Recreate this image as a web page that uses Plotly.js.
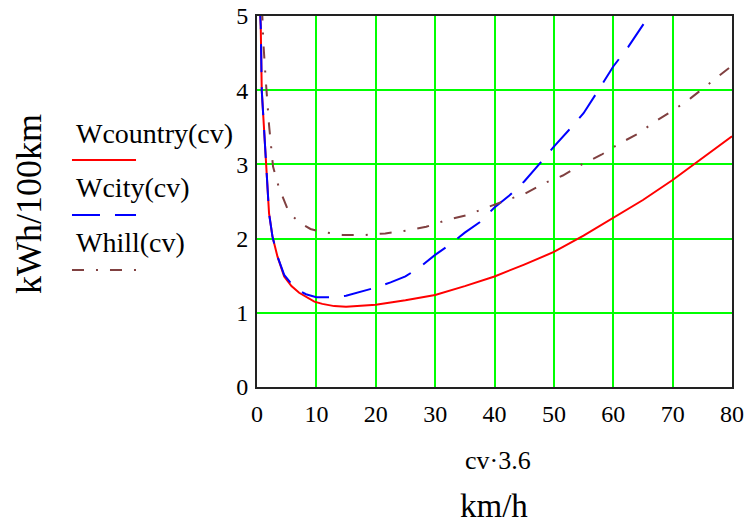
<!DOCTYPE html>
<html>
<head>
<meta charset="utf-8">
<script src="https://cdn.plot.ly/plotly-3.0.1.min.js"></script>
<style>html,body{margin:0;padding:0;background:#fff;}#chart{width:755px;height:526px;}</style>
</head>
<body>
<div id="chart"></div>
<script>
// Speed axis (cv·3.6, km/h) and consumption (kWh/100km)
const countryX = [0.45, 0.63, 0.8, 1.0, 1.19, 1.47, 1.75, 2.03, 2.6, 3.44, 4.58, 5.8, 7.1, 8.5, 9.66, 11, 13, 15, 17, 20, 25, 30, 35, 40, 45, 50, 55, 60, 65, 70, 75, 80];
const countryY = [5.2, 4.86, 4.0, 3.7, 3.42, 3.02, 2.65, 2.34, 2.03, 1.76, 1.49, 1.36, 1.27, 1.2, 1.15, 1.12, 1.09, 1.08, 1.09, 1.11, 1.17, 1.24, 1.36, 1.49, 1.65, 1.82, 2.04, 2.28, 2.52, 2.79, 3.08, 3.38];

const cityX = [0.45, 0.63, 0.8, 1.0, 1.19, 1.47, 1.75, 2.03, 2.6, 3.44, 4.58, 5.8, 7.1, 8.25, 10, 12.5, 15, 17.5, 20, 22.5, 25, 27.5, 30, 32.5, 35, 37.5, 40, 42.5, 45, 47.5, 50, 52.5, 55, 57.5, 60, 62.5, 65, 66.5];
const cityY = [5.2, 4.86, 4.0, 3.7, 3.42, 3.02, 2.65, 2.34, 2.03, 1.76, 1.51, 1.39, 1.3, 1.25, 1.21, 1.21, 1.23, 1.28, 1.34, 1.41, 1.49, 1.62, 1.78, 1.92, 2.08, 2.22, 2.42, 2.58, 2.77, 3.0, 3.24, 3.46, 3.69, 4.0, 4.32, 4.58, 4.88, 5.06];

const hillX = [0.85, 1.07, 1.47, 2.03, 2.7, 3.72, 5.1, 6.0, 7.5, 9.0, 10.9, 14.4, 18.3, 21.6, 25.3, 28.5, 32.0, 35.5, 38.7, 45.2, 48.5, 51.5, 54.7, 58.0, 61.0, 64.1, 66.9, 70.3, 73.0, 75.9, 78.7, 79.5];
const hillY = [5.1, 4.64, 4.14, 3.53, 2.97, 2.68, 2.41, 2.3, 2.2, 2.13, 2.09, 2.05, 2.05, 2.07, 2.11, 2.16, 2.25, 2.32, 2.42, 2.61, 2.75, 2.85, 3.0, 3.13, 3.28, 3.41, 3.57, 3.74, 3.89, 4.07, 4.25, 4.3];

const seriesNames = ["Wcountry(cv)", "Wcity(cv)", "Whill(cv)"];
const xTicks = [0, 10, 20, 30, 40, 50, 60, 70, 80];
const yTicks = [0, 1, 2, 3, 4, 5];

const RED = "#ff0000", BLUE = "#0000ff", BROWN = "#804040";
const DASH_CITY = "28px,15px";
const DASH_HILL = "12px,12px,2px,12px";
const SERIF = "Liberation Serif, Times New Roman, serif";

const traces = [
  {x: countryX, y: countryY, mode: "lines", name: seriesNames[0], line: {color: RED, width: 2}},
  {x: cityX, y: cityY, mode: "lines", name: seriesNames[1], line: {color: BLUE, width: 2, dash: DASH_CITY}},
  {x: hillX, y: hillY, mode: "lines", name: seriesNames[2], line: {color: BROWN, width: 2, dash: DASH_HILL}}
];

// legend geometry (paper coords)
const lx0 = -0.3895, lx1 = -0.2547, tx = -0.3853;
const legendY = [0.6119, 0.4636, 0.3154];
const textY = [0.6846, 0.5364, 0.3908];
const colors = [RED, BLUE, BROWN];
const dashes = ["solid", DASH_CITY, DASH_HILL];

const shapes = legendY.map((yy, i) => ({
  type: "line", xref: "paper", yref: "paper", x0: lx0, x1: lx1, y0: yy, y1: yy,
  line: {color: colors[i], width: 2, dash: dashes[i]}
}));

const annotations = seriesNames.map((n, i) => ({
  text: n, xref: "paper", yref: "paper", x: tx, y: textY[i], xanchor: "left", yanchor: "middle",
  showarrow: false, font: {family: SERIF, size: 28, color: "#000"}
}));
annotations.push(
  {text: "cv·3.6", xref: "paper", yref: "paper", x: 0.507, y: -0.197, xanchor: "center", yanchor: "middle",
   showarrow: false, font: {family: SERIF, size: 26, color: "#000"}},
  {text: "km/h", xref: "paper", yref: "paper", x: 0.498, y: -0.322, xanchor: "center", yanchor: "middle",
   showarrow: false, font: {family: SERIF, size: 33, color: "#000"}},
  {text: "kWh/100km", xref: "paper", yref: "paper", x: -0.48, y: 0.493, xanchor: "center", yanchor: "middle",
   textangle: -90, showarrow: false, font: {family: SERIF, size: 36, color: "#000"}}
);

const layout = {
  width: 755, height: 526,
  margin: {l: 257, r: 23, t: 16, b: 139},
  paper_bgcolor: "#fff", plot_bgcolor: "#fff",
  showlegend: false,
  xaxis: {
    range: [0, 80], tickvals: xTicks, ticktext: xTicks.map(String),
    showgrid: true, gridcolor: "#00ff00", gridwidth: 2, zeroline: false,
    showline: true, linecolor: "#222", linewidth: 2, mirror: true,
    ticks: "", tickfont: {family: SERIF, size: 24, color: "#000"}, ticklabelstandoff: 4
  },
  yaxis: {
    range: [0, 5], tickvals: yTicks, ticktext: yTicks.map(String),
    showgrid: true, gridcolor: "#00ff00", gridwidth: 2, zeroline: false,
    showline: true, linecolor: "#222", linewidth: 2, mirror: true,
    ticks: "", tickfont: {family: SERIF, size: 24, color: "#000"}, ticklabelstandoff: 2
  },
  shapes: shapes,
  annotations: annotations
};

Plotly.newPlot("chart", traces, layout, {displayModeBar: false, staticPlot: true});
</script>
</body>
</html>
